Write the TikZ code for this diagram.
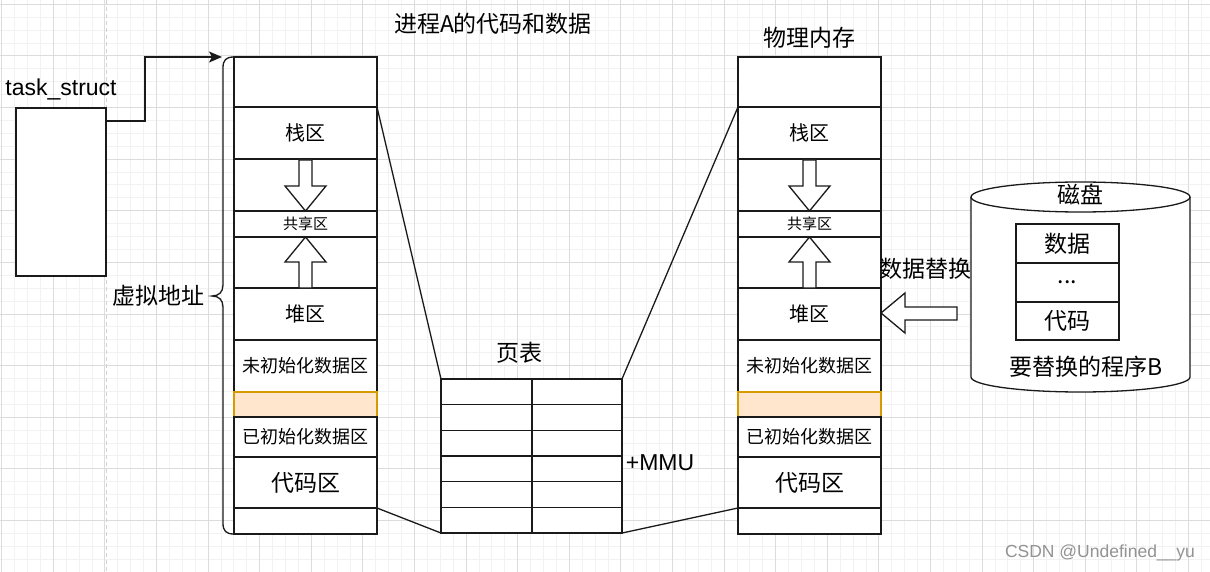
\documentclass[tikz,border=0pt]{standalone}
\usepackage{fontspec}
\setmainfont{Noto Sans CJK SC}
\newfontfamily\latfont{Liberation Sans}
\usepackage{tikz}
\usetikzlibrary{arrows.meta,calc}

\definecolor{linec}{HTML}{1A1A1A}
\definecolor{gridmin}{HTML}{F2F2F2}
\definecolor{gridmaj}{HTML}{DCDCDC}
\definecolor{orangefill}{HTML}{FFE6CC}
\definecolor{orangeline}{HTML}{D79B00}

\newcommand{\fbig}{\fontsize{23}{27}\selectfont}
\newcommand{\fmid}{\fontsize{20}{24}\selectfont}
\newcommand{\fsmall}{\fontsize{18}{22}\selectfont}
\newcommand{\ftiny}{\fontsize{15}{18}\selectfont}

\begin{document}
\begin{tikzpicture}[x=1pt, y=-1pt,
	conn/.style={draw=linec, line width=1.3pt},
	cell/.style={rectangle, draw=linec, line width=1.3pt, anchor=north west,
		inner sep=0pt, outer sep=0pt, minimum width=143pt},
	tcell/.style={rectangle, draw=linec, fill=white, line width=1.3pt, anchor=north west,
		inner sep=0pt, outer sep=0pt, minimum height=25.67pt},
	blockarrow/.style={draw=linec, fill=white, line width=1.3pt, line join=miter},
	label/.style={font=\fbig, inner sep=0pt}
]
	\useasboundingbox (0,0) rectangle (1210,572);
	\fill[white] (0,0) rectangle (1210,572);

	\foreach \i in {0,...,93} \draw[gridmin, line width=1pt] ({1.7+12.9*\i},0) -- ({1.7+12.9*\i},572);
	\foreach \i in {0,...,44} \draw[gridmin, line width=1pt] (0,{4.4+12.9*\i}) -- (1210,{4.4+12.9*\i});
	\foreach \i in {0,...,23} \draw[gridmaj, line width=1pt] ({1.7+51.6*\i},0) -- ({1.7+51.6*\i},572);
	\foreach \i in {0,...,10} \draw[gridmaj, line width=1pt] (0,{4.4+51.6*\i}) -- (1210,{4.4+51.6*\i});
	\draw[gray!35, line width=1pt, dash pattern=on 4pt off 3pt] (106,0) -- (106,572);

	\foreach \col/\x in {v/234,p/738} {
		\begin{scope}[xshift=\x pt]
			\foreach \n/\y/\h/\t/\f/\fc/\dc in {
				0/57/50//\fmid/white/linec,
				1/107/52/栈区/\fmid/white/linec,
				2/159/52//\fmid/white/linec,
				3/211/26/共享区/\ftiny/white/linec,
				4/237/51//\fmid/white/linec,
				5/288/52/堆区/\fmid/white/linec,
				6/340/52/未初始化数据区/\fsmall/white/linec,
				7/392/25//\fmid/orangefill/orangeline,
				8/417/40/已初始化数据区/\fsmall/white/linec,
				9/457/51/代码区/\fbig/white/linec,
				10/508/26//\fmid/white/linec} {
				\node[cell, minimum height=\h pt, font=\f, fill=\fc, draw=\dc] (\col\n) at (0,\y) {\t};
			}

			\draw[blockarrow] (65,160) -- (78,160) -- (78,186) -- (92,186) -- (71.5,211)
				-- (51,186) -- (65,186) -- cycle;
			\draw[blockarrow] (71.5,237) -- (92,262) -- (78,262) -- (78,288) -- (65,288)
				-- (65,262) -- (51,262) -- cycle;
		\end{scope}
	}

	\foreach \i in {0,...,5} {
		\node[tcell, minimum width=91pt] (ptl\i) at (441,{379+25.67*\i}) {};
		\node[tcell, minimum width=90pt] (ptr\i) at (532,{379+25.67*\i}) {};
	}

	\draw[conn] (v1.north east) -- (ptl0.north west);
	\draw[conn] (v10.north east) -- (ptl5.south west);
	\draw[conn] (ptr0.north east) -- (p1.north west);
	\draw[conn] (ptr5.south east) -- (p10.north west);

	\node[label] (title) at (493,24) {进程A的代码和数据};
	\node[label] (phys) at (809,38) {物理内存};
	\node[label] (ptlbl) at (519,353) {页表};
	\node[label, font=\latfont\fbig] (mmu) at (660,463) {+MMU};
	\node[label] (vaddr) at (158,296) {虚拟地址};

	\node[label, font=\latfont\fbig] (tasklbl) at (61,89) {task\_struct};
	\node[rectangle, draw=linec, fill=white, line width=1.3pt, anchor=north west,
		minimum width=90pt, minimum height=168pt, inner sep=0pt, outer sep=0pt] (task) at (16,108) {};

	\draw[conn] (234,57) .. controls (226,57) and (223,60) .. (223,68) -- (223,285)
		.. controls (223,292) and (219,296) .. (212,296)
		.. controls (219,296) and (223,300) .. (223,307) -- (223,523)
		.. controls (223,531) and (226,534) .. (234,534);
	\coordinate (bracetop) at (222,57);
	\draw[conn, -{Stealth[length=13pt, width=11pt, inset=3pt]}] ($(task.north east)+(0,13)$) -- ++(39,0) |- (bracetop);

	\draw[conn, fill=white] (971,197) -- (971,377)
		arc[start angle=180, end angle=360, x radius=109.5pt, y radius=15pt] -- (1190,197);
	\draw[conn, fill=white] (1080.5,197) ellipse [x radius=109.5pt, y radius=15pt];
	\node[label] (disk) at (1080,194) {磁盘};
	\node[cell, fill=white, minimum width=103pt, minimum height=39pt, font=\fbig] (dd) at (1016,224) {数据};
	\node[cell, fill=white, minimum width=103pt, minimum height=39pt, font=\fbig] (dm) at (1016,263) {...};
	\node[cell, fill=white, minimum width=103pt, minimum height=38pt, font=\fbig] (dc) at (1016,302) {代码};
	\node[label] (progB) at (1086,367) {要替换的程序B};

	\draw[blockarrow] (881,313) -- (905,293) -- (905,307) -- (957,307) -- (957,320)
		-- (905,320) -- (905,333) -- cycle;
	\node[label] (swap) at (925,269) {数据替换};

	\node[inner sep=0pt, text=gray!85, font=\latfont\fontsize{17.5}{21}\selectfont] (mark) at (1100,553) {CSDN @Undefined\_\_yu};
\end{tikzpicture}
\end{document}
